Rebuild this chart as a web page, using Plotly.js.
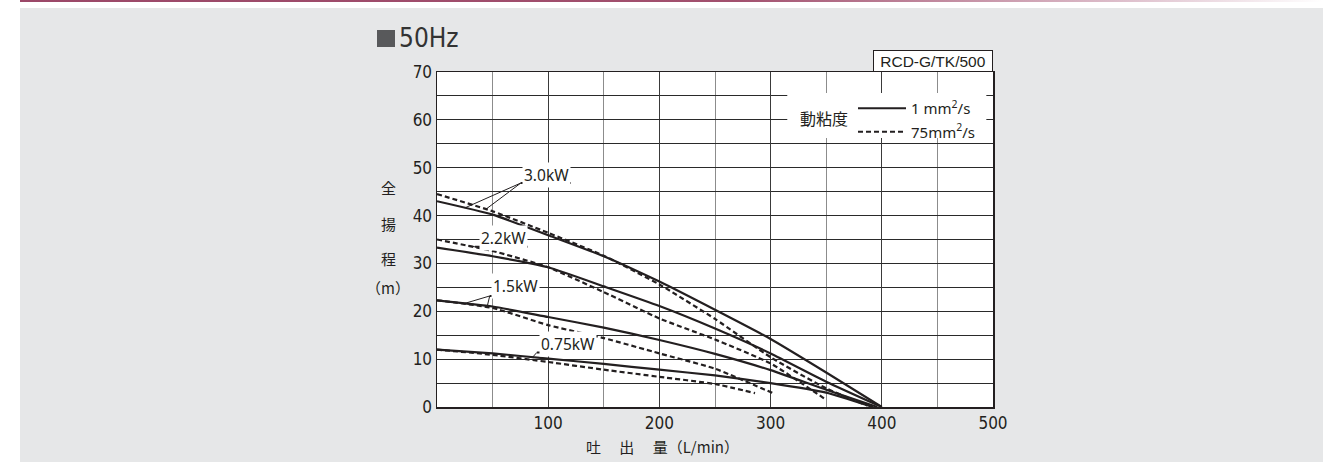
<!DOCTYPE html>
<html><head><meta charset="utf-8">
<script src="https://cdn.plot.ly/plotly-3.0.1.min.js"></script>
<style>
html,body{margin:0;padding:0;background:#fff;width:1323px;height:462px;overflow:hidden}
#bg{position:absolute;left:20px;top:8px;right:0;bottom:0;background:#e6e7e8}
#topline{position:absolute;left:20px;top:0;right:0;height:2px;background:linear-gradient(to right,#9b4868 0%,#a2506e 55%,rgba(190,130,155,0.5) 85%,rgba(255,255,255,0) 100%)}
#chart{position:absolute;left:0;top:0;width:1323px;height:462px}
</style></head><body>
<div id="bg"></div><div id="topline"></div><div id="chart"></div>
<script>
// ---- data ----
const flowTicks = [100, 200, 300, 400, 500];
const headTicks = [0, 10, 20, 30, 40, 50, 60, 70];
const motors = ['3.0kW', '2.2kW', '1.5kW', '0.75kW'];
const viscTitle = '動粘度';
const viscNames = ['1 mm<sup>2</sup>/s', '75mm<sup>2</sup>/s'];

// viscosity 1 mm2/s (solid)
const q30a = [0, 50, 100, 150, 200, 250, 300, 350, 400];
const h30a = [43.0, 40.2, 35.9, 31.5, 26.2, 20.3, 14.2, 7.2, 0];
const q22a = [0, 50, 100, 150, 200, 250, 300, 350, 400];
const h22a = [33.3, 31.5, 29.2, 25.2, 21.1, 16.4, 11.2, 5.3, 0];
const q15a = [0, 50, 100, 150, 200, 250, 300, 350, 396];
const h15a = [22.3, 21.0, 18.8, 16.6, 14.0, 11.1, 7.7, 3.6, 0];
const q075a = [0, 50, 100, 150, 200, 250, 300, 350, 392];
const h075a = [12.0, 11.2, 10.1, 9.0, 7.8, 6.6, 5.0, 3.0, 0];

// viscosity 75 mm2/s (dashed)
const q30b = [0, 50, 100, 150, 200, 250, 300, 350, 387];
const h30b = [44.5, 40.9, 36.4, 31.6, 25.6, 18.4, 10.4, 3.9, 0.3];
const q22b = [0, 50, 100, 150, 200, 250, 300, 350];
const h22b = [35.0, 32.6, 29.2, 24.0, 18.5, 14.1, 9.1, 1.5];
const q15b = [0, 50, 100, 150, 200, 250, 303];
const h15b = [22.3, 20.7, 17.1, 14.4, 11.2, 8.0, 2.8];
const q075b = [0, 50, 100, 150, 200, 250, 286];
const h075b = [12.0, 10.9, 9.4, 7.8, 6.3, 4.8, 2.9];

// ---- helpers ----
function interp(xs, ys, x) {
  for (let i = 0; i < xs.length - 1; i++) {
    if (x >= xs[i] && x <= xs[i + 1]) {
      const t = (x - xs[i]) / (xs[i + 1] - xs[i]);
      return ys[i] + t * (ys[i + 1] - ys[i]);
    }
  }
  return ys[ys.length - 1];
}

const ink = '#231f20';
const solidSets = [[q30a, h30a], [q22a, h22a], [q15a, h15a], [q075a, h075a]];
const dashSets = [[q30b, h30b], [q22b, h22b], [q15b, h15b], [q075b, h075b]];

const traces = [];
solidSets.forEach((s, i) => traces.push({
  x: s[0], y: s[1], type: 'scatter', mode: 'lines', name: viscNames[0],
  legendgroup: 'v1', showlegend: i === 0, hoverinfo: 'skip',
  line: {color: ink, width: 2.2, shape: 'spline', smoothing: 0.5}
}));
dashSets.forEach((s, i) => traces.push({
  x: s[0], y: s[1], type: 'scatter', mode: 'lines', name: viscNames[1],
  legendgroup: 'v75', showlegend: i === 0, hoverinfo: 'skip',
  line: {color: ink, width: 2.2, dash: '5px,3px', shape: 'spline', smoothing: 0.5}
}));

// label placement: [textX, textY, underlineX0, underlineX1, underlineY, leader targets [[set, x]...]]
const labelPos = [
  [98.6, 48.5, 75.4, 120.5, 46.8, [[solidSets[0], 25], [dashSets[0], 44]]],
  [59.6, 35.4, 34.0, 81.7, 33.5, [[dashSets[1], 28]]],
  [71.0, 25.2, 47.4, 91.6, 23.2, [[solidSets[2], 25], [dashSets[2], 45]]],
  [117.8, 13.2, 89.8, 143.0, 11.4, [[solidSets[3], 86]]]
];

const shapes = [
  // white backing of the viscosity legend
  {type: 'rect', xref: 'x', yref: 'y', x0: 315, x1: 494, y0: 56.2, y1: 65.6,
   fillcolor: '#ffffff', line: {width: 0}, layer: 'between'},
  // 50Hz square marker
  {type: 'rect', xref: 'paper', yref: 'paper', x0: -0.1079, x1: -0.0755, y0: 1.0746, y1: 1.1254,
   fillcolor: '#58595b', line: {width: 0}}
];
const annotations = [];
labelPos.forEach((p, i) => {
  annotations.push({x: p[0], y: p[1], xref: 'x', yref: 'y', text: motors[i], showarrow: false,
    xanchor: 'center', yanchor: 'middle', bgcolor: '#ffffff', borderpad: 1,
    font: {family: 'Noto Sans, sans-serif', size: 15.5, color: ink}});
  shapes.push({type: 'line', xref: 'x', yref: 'y', x0: p[2], x1: p[3], y0: p[4], y1: p[4],
    line: {color: ink, width: 2}});
  p[5].forEach(t => {
    const tx = t[1], ty = interp(t[0][0], t[0][1], tx);
    shapes.push({type: 'line', xref: 'x', yref: 'y', x0: p[2], y0: p[4], x1: tx, y1: ty,
      line: {color: ink, width: 1}});
  });
});

// legend title (left of the two entries, vertically centred)
annotations.push({xref: 'paper', yref: 'paper', x: (824 - 437) / 556, y: (407 - 118) / 335,
  xanchor: 'center', yanchor: 'middle', text: viscTitle, showarrow: false,
  font: {family: 'Noto Sans CJK JP, sans-serif', size: 16, color: ink}});
// title "50Hz"
annotations.push({xref: 'paper', yref: 'paper', x: -0.0719, y: 1.1, xanchor: 'left', yanchor: 'middle',
  text: '50Hz', showarrow: false,
  font: {family: 'Liberation Sans Narrow, DejaVu Sans Condensed, sans-serif', size: 26, color: '#333333'}});
// model box
annotations.push({xref: 'paper', yref: 'paper', x: 1, y: 1, xanchor: 'right', yanchor: 'bottom',
  text: 'RCD-G/TK/500', showarrow: false, bgcolor: '#ffffff', bordercolor: ink, borderwidth: 1,
  borderpad: 1, width: 116, height: 18,
  font: {family: 'Liberation Sans, Arial, sans-serif', size: 15.5, color: ink}});
// y-axis title, stacked vertically
const yTitleChars = ['全', '揚', '程', '（m）'];
const yTitlePy = [187, 223, 258, 287];
yTitleChars.forEach((c, i) => annotations.push({xref: 'paper', yref: 'paper',
  x: (388 - 437) / 556, y: (407 - yTitlePy[i]) / 335, xanchor: 'center', yanchor: 'middle',
  text: c, showarrow: false, font: {family: 'Noto Sans CJK JP, sans-serif', size: 15, color: ink}}));
// x-axis title
annotations.push({xref: 'paper', yref: 'paper', x: (584 - 437) / 556, y: (407 - 447) / 335,
  xanchor: 'left', yanchor: 'middle', text: '吐　 出　 量（L/min）', showarrow: false,
  font: {family: 'Noto Sans CJK JP, sans-serif', size: 15, color: ink}});

const tickFont = {family: 'Liberation Sans Narrow, DejaVu Sans Condensed, sans-serif', size: 17, color: ink};

const layout = {
  width: 1323, height: 462,
  margin: {l: 437, r: 330, t: 72, b: 55, pad: 0},
  paper_bgcolor: 'rgba(0,0,0,0)', plot_bgcolor: '#ffffff',
  showlegend: true,
  legend: {x: (853 - 437) / 556, y: (407 - 92) / 335, xanchor: 'left', yanchor: 'top',
    bgcolor: 'rgba(0,0,0,0)', borderwidth: 0, tracegroupgap: 1, itemwidth: 48,
    font: {family: 'Noto Sans, sans-serif', size: 15, color: ink}},
  xaxis: {range: [0, 500], tickvals: flowTicks, ticktext: flowTicks.map(String), ticks: '',
    showgrid: true, gridcolor: '#3a3a3a', gridwidth: 1, zeroline: false,
    minor: {dtick: 50, tick0: 0, showgrid: true, gridcolor: '#8c8c8c', gridwidth: 1},
    showline: true, linecolor: ink, linewidth: 1.5, mirror: true, tickfont: tickFont, fixedrange: true},
  yaxis: {range: [0, 70], tickvals: headTicks, ticktext: headTicks.map(String), ticks: '',
    showgrid: true, gridcolor: '#2a2a2a', gridwidth: 1, zeroline: false,
    minor: {dtick: 5, tick0: 0, showgrid: true, gridcolor: '#2a2a2a', gridwidth: 1},
    showline: true, linecolor: ink, linewidth: 1.5, mirror: true, tickfont: tickFont, fixedrange: true},
  shapes: shapes,
  annotations: annotations,
  hovermode: false
};

Plotly.newPlot('chart', traces, layout, {displayModeBar: false, staticPlot: true});
</script>
</body></html>
